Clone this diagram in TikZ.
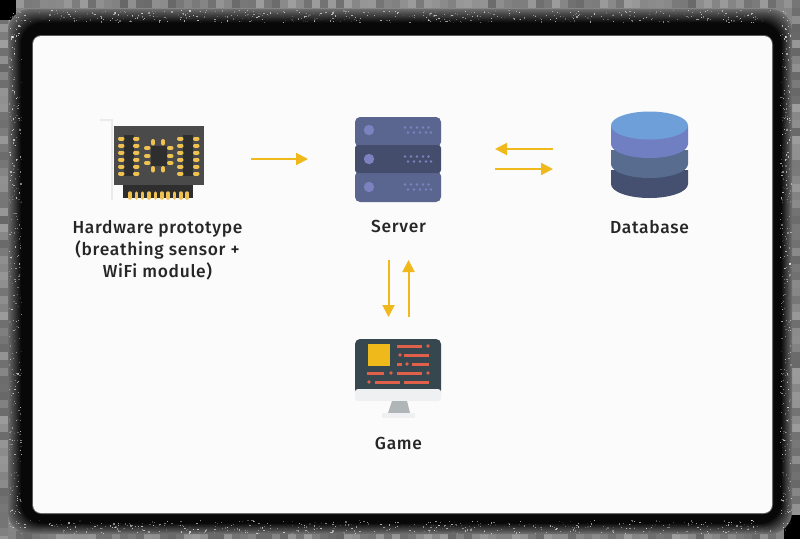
\documentclass[tikz,border=0pt]{standalone}
\usepackage{fontspec}
\setmainfont{Fira Sans Medium}[LetterSpace=4]
\usetikzlibrary{arrows.meta, positioning}
\definecolor{arrowgold}{HTML}{F0B91B}
\definecolor{pcbgrey}{HTML}{4A4A4A}
\definecolor{chipdark}{HTML}{2E2E2E}
\definecolor{padgold}{HTML}{EFC150}
\definecolor{rackblue}{HTML}{5B6690}
\definecolor{rackdark}{HTML}{444D6C}
\definecolor{rackdot}{HTML}{7C82BF}
\definecolor{screendark}{HTML}{37474F}
\definecolor{screenred}{HTML}{E0604A}
\definecolor{standgrey}{HTML}{B0B5B8}
\definecolor{basegrey}{HTML}{EEF0F2}
\definecolor{dbtop}{HTML}{6E9FD8}
\definecolor{dbfirst}{HTML}{6F7FC2}
\definecolor{dbsecond}{HTML}{576C8F}
\definecolor{dbthird}{HTML}{455070}

\begin{document}
\begin{tikzpicture}[
    x=1pt, y=-1pt,
    icon/.style={minimum height=86pt, inner sep=0pt, outer sep=0pt},
    label/.style={font=\fontsize{17.4}{22}\selectfont, align=center, text=black!85, inner sep=0pt},
    arrow/.style={-{Triangle[length=12pt, width=12pt]}, arrowgold, line width=2pt},
    pad/.style={padgold, line width=4pt, line cap=round},
    redline/.style={screenred, line width=3pt},
]
\useasboundingbox (0,0) rectangle (800,539);

% Backdrop and shadow
\fill[black!48] (0,0) rectangle (800,539);
\pgfmathsetseed{7}
\foreach \x in {0,8,...,792} {
    \pgfmathsetmacro{\shade}{38+22*rnd}
    \fill[black!\shade] (\x,0) rectangle (\x+8,8);
    \pgfmathsetmacro{\shade}{38+22*rnd}
    \fill[black!\shade] (\x,531) rectangle (\x+8,539);
}
\foreach \y in {0,8,...,531} {
    \pgfmathsetmacro{\shade}{38+22*rnd}
    \fill[black!\shade] (0,\y) rectangle (8,\y+8);
    \pgfmathsetmacro{\shade}{38+22*rnd}
    \fill[black!\shade] (792,\y) rectangle (800,\y+8);
}
\fill[black] (0,0) rectangle (16,20);
\fill[black] (784,515) rectangle (800,539);
\foreach \t in {0,...,25} {
    \pgfmathsetmacro{\shade}{min(97,58+3*\t)}
    \fill[black!\shade, rounded corners=22pt]
        (8+\t,9+1.04*\t) rectangle (792-.8*\t,534-.8*\t);
}
% Speckle in the outer part of the shadow
\foreach \n in {1,...,500} {
    \pgfmathsetmacro{\px}{8+784*rnd}
    \pgfmathsetmacro{\py}{10+12*rnd}
    \pgfmathsetmacro{\qy}{520+13*rnd}
    \pgfmathsetmacro{\shade}{100*rnd}
    \fill[white, opacity=.7*\shade/100] (\px,\py) rectangle (\px+1.2,\py+1.2);
    \fill[white, opacity=.7*\shade/100] (\px,\qy) rectangle (\px+1.2,\qy+1.2);
}
\foreach \n in {1,...,320} {
    \pgfmathsetmacro{\py}{22+496*rnd}
    \pgfmathsetmacro{\px}{9+12*rnd}
    \pgfmathsetmacro{\qx}{780+11*rnd}
    \pgfmathsetmacro{\shade}{100*rnd}
    \fill[white, opacity=.7*\shade/100] (\px,\py) rectangle (\px+1.2,\py+1.2);
    \fill[white, opacity=.7*\shade/100] (\qx,\py) rectangle (\qx+1.2,\py+1.2);
}
\fill[black!65!white, rounded corners=9pt] (32,35) rectangle (773,514);
\fill[black!1.5, rounded corners=8pt] (33,36) rectangle (772,513);

% Placeholders for the icons
\node[icon, minimum width=105pt] (hardware) at (157.5,159) {};
\node[icon, minimum width=87pt] (server) at (398.5,159) {};
\node[icon, minimum width=79pt] (database) at (649.5,159) {};
\node[icon, minimum width=87pt, minimum height=81pt] (game) at (398.5,379.5) {};

% Hardware icon
\draw[black!8, line width=2.5pt] (100,120) -- (112,120) -- (112,200);
\fill[pcbgrey] (114,126) rectangle (204,185);
\fill[chipdark] (123,185) rectangle (193,198);
\foreach \x in {0,...,9}
    \draw[padgold, line width=3.5pt, line cap=round] (130+6.35*\x,193) -- (130+6.35*\x,198);
\fill[chipdark] (124,135) rectangle (134,176);
\fill[chipdark] (183,135) rectangle (193,176);
\fill[chipdark] (151,146) rectangle (167,166);
\foreach \y in {138.5,145.5,152.5,159.5,166.5,173.5} {
    \foreach \x in {120,135,179,195}
        \draw[pad] (\x,\y) -- (\x+2.5,\y);
}
\foreach \y in {148,156,163} {
    \foreach \x in {146,169}
        \draw[pad] (\x,\y) -- (\x+2.5,\y);
}
\foreach \x in {153,163} {
    \draw[pad] (\x,141) -- (\x,143.5);
    \draw[pad] (\x,168) -- (\x,170.5);
}

% Server icon
\fill[rackblue, rounded corners=5pt] (355,117) rectangle (441,147);
\fill[rackblue, rounded corners=5pt] (355,171) rectangle (441,202);
\fill[rackdark, rounded corners=3pt] (355,145) rectangle (441,173);
\foreach \y in {130,159,187} {
    \fill[rackdot] (369,\y) circle (5.2pt);
    \foreach \x in {405,411,417,423,428.5}
        \fill[rackdot] (\x,\y-2.5) circle (1.4pt);
    \foreach \x in {408,414,420,426,431}
        \fill[rackdot] (\x,\y+2.5) circle (1.4pt);
}

% Database icon
\foreach \yc/\ytop/\c in {184/170/dbthird,164/150/dbsecond,144/126/dbfirst}
    \fill[\c] (611,\ytop) rectangle (688,\yc) (649.5,\yc) ellipse [x radius=38.5pt, y radius=14pt];
\fill[dbtop] (649.5,125.5) ellipse [x radius=38.5pt, y radius=14pt];

% Game icon
\fill[screendark, rounded corners=5pt] (355,339) rectangle (441,395);
\fill[basegrey, rounded corners=3pt] (355,389) rectangle (441,401);
\fill[standgrey] (392,401) -- (407,401) -- (410,413) -- (388,413) -- cycle;
\fill[basegrey] (382,413) rectangle (415,418);
\fill[arrowgold] (368,344) rectangle (390,366);
\draw[redline] (397,346) -- (422,346);
\draw[redline] (404,355) -- (429,355);
\draw[redline] (412,364) -- (429,364);
\draw[redline] (397,364) -- (402,364);
\draw[redline] (367,373) -- (384,373);
\draw[redline] (397,373) -- (422,373);
\draw[redline] (375,382) -- (400,382);
\draw[redline] (404,382) -- (429,382);
\foreach \x/\y in {428/346,400/355,407/364,391/373,428/373,369/382}
    \fill[screenred] (\x,\y) circle (1.9pt);

% Labels
\node[label, below=18pt of hardware.south] (hardwarelabel) {Hardware prototype\\(breathing sensor +\\WiFi module)};
\node[label, below=18pt of server.south] (serverlabel) {Server};
\node[label, below=18pt of database.south] (databaselabel) {Database};
\node[label, below=17pt of game.south] (gamelabel) {Game};

% Connectors
\draw[arrow, shorten <=41pt, shorten >=47pt] (hardware.east) -- (server.west);
\draw[arrow, shorten <=57pt, shorten >=53pt] ([yshift=10pt]database.west) -- ([yshift=10pt]server.east);
\draw[arrow, shorten <=53pt, shorten >=57pt] ([yshift=-10pt]server.east) -- ([yshift=-10pt]database.west);
\draw[arrow, shorten <=58pt, shorten >=22pt] ([xshift=-10pt]server.south) -- ([xshift=-10pt]game.north);
\draw[arrow, shorten <=22pt, shorten >=58pt] ([xshift=10pt]game.north) -- ([xshift=10pt]server.south);
\end{tikzpicture}
\end{document}
